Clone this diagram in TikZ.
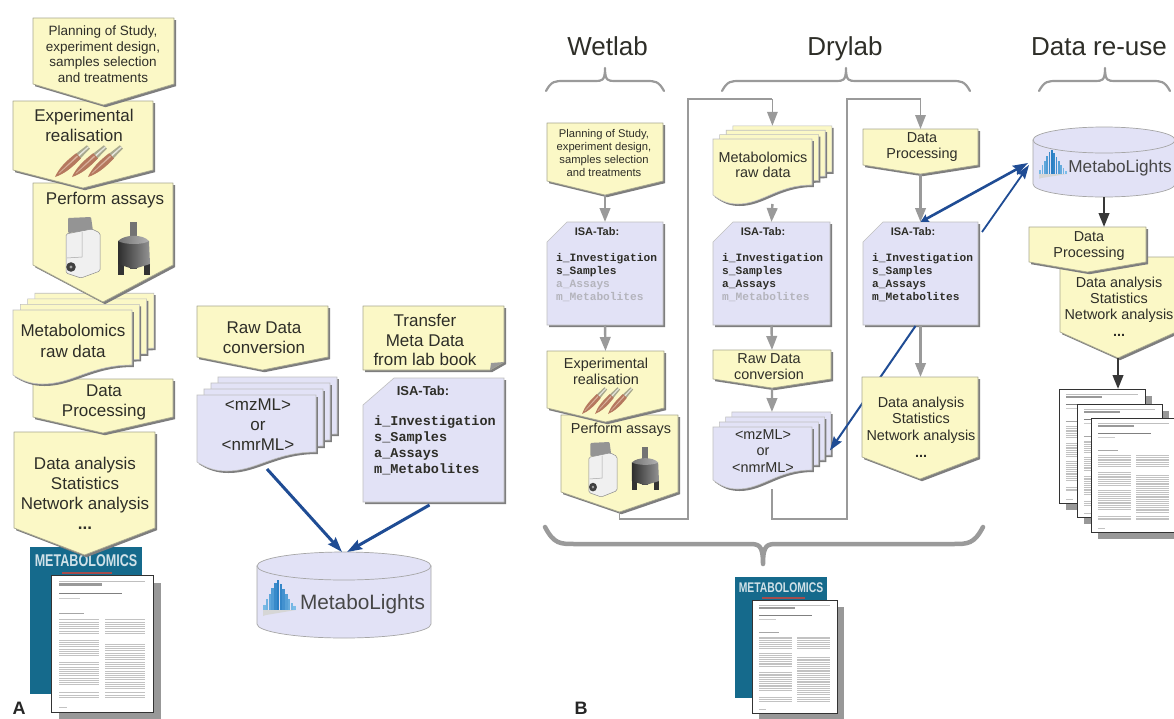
\documentclass[tikz,border=0pt]{standalone}
\usepackage{fontspec}
\setmainfont{Liberation Sans}
\setmonofont{Liberation Mono}
\usetikzlibrary{arrows.meta,calc}
\definecolor{yel}{HTML}{FBF8C6}
\definecolor{lav}{HTML}{E2E2F6}
\definecolor{edgec}{HTML}{A8A890}
\definecolor{shadowc}{HTML}{7E7E7E}
\definecolor{graya}{HTML}{9A9A9A}
\definecolor{bluea}{HTML}{1F4C94}
\definecolor{inkc}{HTML}{2E2E28}
\definecolor{fadec}{HTML}{B4B4BC}
\definecolor{tealc}{HTML}{156A8C}
\definecolor{logoD}{HTML}{2A7FC4}
\definecolor{logoL}{HTML}{8CC8EE}
\definecolor{tubeB}{HTML}{B5785E}
\definecolor{tubeL}{HTML}{D8B09C}
\definecolor{tubeG}{HTML}{A9A98E}
\tikzset{
  x=1pt,y=-1pt,
  anch/.style={inner sep=0pt,outer sep=0pt,draw=none},
  lbltext/.style={inner sep=0pt,align=center,text=inkc},
  headtext/.style={inner sep=0pt,anchor=base,text=inkc,font=\fontsize{26}{28}\selectfont},
  monotext/.style={inner sep=0pt,align=left,anchor=west,text=inkc},
  outlined/.style={draw=edgec,line width=.7pt,line join=round},
  grayarrow/.style={draw=graya,line width=2.4pt,-{Triangle[length=14pt,width=10.5pt]}},
  grayline/.style={draw=graya,line width=1.6pt,line join=miter},
  grayend/.style={draw=graya,line width=1.6pt,line join=miter,-{Triangle[length=14pt,width=10.5pt]}},
  darkarrow/.style={draw=black!78,line width=2.4pt,-{Triangle[length=14pt,width=10.5pt]}},
  bluearrow/.style={draw=bluea,line width=3pt,-{Stealth[length=15pt,width=10pt,inset=2pt]}},
  bluethin/.style={draw=bluea,line width=1.8pt,-{Stealth[length=14pt,width=9.5pt,inset=2pt]}},
  bluedouble/.style={draw=bluea,line width=2.6pt,{Stealth[length=8pt,width=8pt,inset=1pt]}-{Stealth[length=15pt,width=10pt,inset=2pt]}},
  bracestyle/.style={draw=graya,line cap=round,line join=round},
}
% name x1 y1 x2 y2 (extent)
\newcommand{\bbnode}[5]{\node[anch,minimum width={(#4-#2)*1pt},minimum height={(#5-#3)*1pt}] (#1) at ({(#2+#4)/2},{(#3+#5)/2}) {};}
% name x1 y1 x2 ybody ytip
\newcommand{\penta}[6]{%
  \pgfmathsetmacro{\mx}{(#2+#4)/2}
  \fill[shadowc,shift={(2,2.2)}] (#2,#3)--(#4,#3)--(#4,#5)--(\mx,#6)--(#2,#5)--cycle;
  \path[fill=yel,outlined] (#2,#3)--(#4,#3)--(#4,#5)--(\mx,#6)--(#2,#5)--cycle;
  \bbnode{#1}{#2}{#3}{#4}{#6}}
% name x1 y1 x2 y2 cutx cuty
\newcommand{\isabox}[7]{%
  \fill[shadowc,shift={(2,2.2)}] ({#2+#6},#3)--(#4,#3)--(#4,#5)--(#2,#5)--(#2,{#3+#7})--cycle;
  \path[fill=lav,draw=black!25,line width=.6pt] ({#2+#6},#3)--(#4,#3)--(#4,#5)--(#2,#5)--(#2,{#3+#7})--cycle;
  \bbnode{#1}{#2}{#3}{#4}{#5}}
% name x1 y1 x2 yl dx dy fill
\newcommand{\docstack}[8]{%
  \pgfmathsetmacro{\sheetw}{#4-#2}
  \foreach \k in {3,2,1,0}{
    \begin{scope}[shift={({\k*#6},{-\k*#7})}]
      \fill[shadowc,shift={(1.8,2)}] (#2,#3)--(#4,#3)--(#4,{#5-10}) .. controls ({#2+.65*\sheetw},{#5-10}) and ({#2+.5*\sheetw},{#5+9}) .. ({#2+.25*\sheetw},{#5+9}) .. controls ({#2+.15*\sheetw},{#5+9}) and ({#2+.08*\sheetw},{#5+6}) .. (#2,#5)--cycle;
      \path[fill=#8,draw=black!25,line width=.6pt] (#2,#3)--(#4,#3)--(#4,{#5-10}) .. controls ({#2+.65*\sheetw},{#5-10}) and ({#2+.5*\sheetw},{#5+9}) .. ({#2+.25*\sheetw},{#5+9}) .. controls ({#2+.15*\sheetw},{#5+9}) and ({#2+.08*\sheetw},{#5+6}) .. (#2,#5)--cycle;
    \end{scope}}
  \bbnode{#1}{#2}{(#3-3*#7)}{(#4+3*#6)}{(#5+9)}}
% name x y size skip text
\newcommand{\lbl}[6]{\node[lbltext,font=\fontsize{#4}{#5}\selectfont] (#1) at (#2,#3) {#6};}
\newcommand{\mono}[6]{\node[monotext,font=\fontsize{#4}{#5}\selectfont\ttfamily\bfseries] (#1) at (#2,#3) {#6};}
% name x1 cy x2 ye ry
\newcommand{\cylinder}[6]{%
  \pgfmathsetmacro{\rx}{(#4-#2)/2}
  \pgfmathsetmacro{\cxx}{(#2+#4)/2}
  \path[fill=lav,draw=black!35,line width=.7pt] (#2,#3)--(#2,#5) arc[start angle=180,end angle=0,x radius=\rx,y radius=#6]--(#4,#3)--cycle;
  \path[fill=lav,draw=black!35,line width=.7pt] (\cxx,#3) ellipse [x radius=\rx,y radius=#6];
  \bbnode{#1}{#2}{(#3-#6)}{#4}{(#5+#6)}}
% logo x ybase w h
\newcommand{\mlogo}[4]{%
  \begin{scope}[shift={(#1,#2)},xscale={#3/33},yscale={#4/30}]
    \fill[black!16] (0,0)--(33,0)--(3,5)--(0,6)--cycle;
    \foreach \ii/\hh/\cc in {0/5/20,1/11/30,2/16/45,3/22/60,4/27/85,5/30/100,6/26/90,7/21/75,8/16/55,9/11/40,10/7/25,11/4/15}{
      \fill[logoD!\cc!logoL] ({\ii*2.75+.2},0) rectangle ({\ii*2.75+2.5},-\hh);
    }
  \end{scope}}
% mass spec x y w h
\newcommand{\msicon}[4]{%
  \begin{scope}[shift={(#1,#2)},xscale={#3/35},yscale={#4/61}]
    \path[fill=black!42,rounded corners=1pt] (3,1)--(26,0)--(28,14)--(3,16)--cycle;
    \path[fill=black!6,draw=black!45,line width=.5pt,rounded corners=1.5pt] (1,17)--(27,12)--(35,16)--(35,54)--(16,61)--(1,56)--cycle;
    \draw[black!35,line width=.5pt] (17,15)--(17,40)--(2,41);
    \fill[black!75] (6,50) circle[radius=4.8];
    \fill[black!35] (6,50) circle[radius=1.6];
  \end{scope}}
% nmr x y w h
\newcommand{\nmricon}[4]{%
  \begin{scope}[shift={(#1,#2)},xscale={#3/33},yscale={#4/53}]
    \fill[black!55] (13,0) rectangle (20,17);
    \fill[black!80] (1,38) rectangle (7,53);
    \fill[black!80] (27,38) rectangle (33,53);
    \fill[black!70] (13,38) rectangle (20,47);
    \path[left color=black!82,middle color=black!60,right color=black!42] (1,19)--(32,19)--(33,42)--(20,46)--(13,46)--(1,42)--cycle;
    \path[left color=black!55,right color=black!30] (1,19) .. controls (8,12) and (26,12) .. (32,19) .. controls (26,23) and (8,23) .. (1,19);
  \end{scope}}
% tube x y angle length
\newcommand{\tubeitem}[4]{%
  \begin{scope}[shift={(#1,#2)},rotate=#3,scale={#4/44}]
    \path[fill=tubeG] (27,-3.4)--(44,-2.2)--(44,2.2)--(27,3.4)--cycle;
    \path[fill=white!70!tubeG] (30,-.8)--(44,-.6)--(44,.6)--(30,.8)--cycle;
    \path[fill=tubeB] (0,0) .. controls (8,3.6) and (18,4.6) .. (31,3.4)--(31,-3.4) .. controls (18,-4.6) and (8,-3.6) .. (0,0);
    \fill[tubeL] (5,-.4) -- (30,-1.2) -- (30,.4) -- (5,.2) -- cycle;
  \end{scope}}
% paper name x1 y1 x2 y2 shadow
\newcommand{\paperdoc}[6]{%
  \fill[shadowc!80] ({#2+#6},{#3+#6}) rectangle ({#4+#6},{#5+#6});
  \path[fill=white,draw=black!80,line width=1pt] (#2,#3) rectangle (#4,#5);
  \begin{scope}[shift={(#2,#3)},xscale={(#4-#2)/100},yscale={(#5-#3)/135}]
    \draw[black!25,line width=.5pt] (8,6)--(92,6);
    \fill[black!40] (8,8) rectangle (50,10.5);
    \draw[black!50,line width=.6pt] (8,18)--(70,18);
    \draw[black!20,line width=.5pt] (8,23)--(28,23);
    \draw[black!35,line width=.5pt] (8,38)--(32,38);
    \foreach \yy in {44,46.2,...,58}{\draw[black!24,line width=.5pt] (8,\yy)--(47,\yy);\draw[black!24,line width=.5pt] (53,\yy)--(92,\yy);}
    \foreach \yy in {64,66.2,...,80}{\draw[black!24,line width=.5pt] (8,\yy)--(47,\yy);}
    \foreach \yy in {68,70.2,...,112}{\draw[black!24,line width=.5pt] (53,\yy)--(92,\yy);}
    \foreach \yy in {86,88.2,...,110}{\draw[black!24,line width=.5pt] (8,\yy)--(47,\yy);}
    \foreach \yy in {116,118.2,...,122}{\draw[black!24,line width=.5pt] (8,\yy)--(47,\yy);\draw[black!24,line width=.5pt] (53,\yy)--(92,\yy);}
    \draw[black!24,line width=.5pt] (8,130)--(16,130);
  \end{scope}
  \bbnode{#1}{#2}{#3}{#4}{#5}}
% name x1 y1 x2 y2 fontsize
\newcommand{\jcover}[6]{%
  \fill[tealc] (#2,#3) rectangle (#4,#5);
  \node[inner sep=0pt,text=white!80!tealc,font=\fontsize{#6}{#6}\selectfont\bfseries] (#1) at ({(#2+#4)/2},{#3+#6*.78}) {\scalebox{.74}[1]{METABOLOMICS}};
  }
% x1 xtip x2 yend ymain ytip width r1 r2
\newcommand{\bracegr}[9]{%
  \draw[bracestyle,line width=#7pt] (#1,#4) .. controls ({#1+.3*#8},#5) and ({#1+.5*#8},#5) .. ({#1+#8},#5)
    -- ({#2-#9},#5) .. controls ({#2-.3*#9},#5) and (#2,#5) .. (#2,#6)
    .. controls (#2,#5) and ({#2+.3*#9},#5) .. ({#2+#9},#5)
    -- ({#3-#8},#5) .. controls ({#3-.5*#8},#5) and ({#3-.3*#8},#5) .. (#3,#4);}
\begin{document}
\begin{tikzpicture}
\clip (0,0) rectangle (1174,718);
\useasboundingbox (0,0) rectangle (1174,718);
\fill[white] (0,0) rectangle (1174,718);

%%% ---------- Panel A, left column (drawn bottom to top)
\jcover{aCov}{30}{547}{142}{694}{17}
\fill[red!50!black!70] (62,572) rectangle (112,574);
\paperdoc{aPaper}{51}{575}{153}{712}{8}
\penta{aAna}{14}{432}{155}{528}{555}
\lbl{aAnaT}{85}{485}{17}{20}{Data analysis\\Statistics\\Network analysis}
\lbl{aAnaD}{85}{528}{17}{20}{\bfseries ...}
\penta{aProc}{33}{379}{173}{417}{433}
\lbl{aProcT}{104}{402}{17}{20}{Data\\Processing}
\docstack{aMet}{13}{310}{132}{375}{7.3}{5.6}{yel}
\lbl{aMetT}{73}{341}{17}{21}{Metabolomics\\raw data}
\penta{aPerf}{33}{183}{173}{265}{302}
\lbl{aPerfT}{105}{200.5}{17}{20}{Perform assays}
\msicon{65}{217}{35}{61}
\nmricon{117}{222}{33}{53}
\penta{aExp}{13}{101}{153}{170}{188}
\lbl{aExpT}{84}{125}{17}{20}{Experimental\\realisation}
\tubeitem{55}{177}{42}{45}
\tubeitem{72}{177}{42}{45}
\tubeitem{88}{177}{42}{45}
\penta{aPlan}{33}{18}{174}{84}{105}
\lbl{aPlanT}{103}{54}{13.5}{15.5}{Planning of Study,\\experiment design,\\samples selection\\and treatments}
\node[inner sep=0pt,font=\fontsize{18}{18}\selectfont\bfseries,text=black!85] (aLet) at (19,708) {A};

%%% ---------- Panel A, middle
\penta{mRaw}{197}{306}{328}{357}{370}
\lbl{mRawT}{264}{338}{17}{20}{Raw Data\\conversion}
\docstack{mMz}{197}{395}{316}{462}{7}{6}{lav}
\lbl{mMzT}{258}{424.5}{17}{20}{<mzML>\\or\\<nmrML>}
\fill[shadowc,shift={(2,2.2)}] (363,306)--(504,306)--(504,362)--(490,370)--(363,370)--cycle;
\path[fill=yel,outlined] (363,306)--(504,306)--(504,362)--(490,370)--(363,370)--cycle;
\path[fill=black!40] (504,362)--(490,370)--(491,363)--cycle;
\bbnode{mTrans}{363}{306}{504}{370}
\lbl{mTransT}{425}{340}{17}{19.5}{Transfer\\Meta Data\\from lab book}
\isabox{mIsa}{363}{378}{504}{502}{31}{27}
\lbl{mIsaH}{423}{391}{13}{15}{\bfseries ISA-Tab:}
\mono{mIsaL}{374}{445}{13.5}{16}{i\_Investigation\\s\_Samples\\a\_Assays\\m\_Metabolites}
\cylinder{mCyl}{257}{566}{431}{624}{14}
\mlogo{263}{610}{33}{30}
\lbl{mCylT}{362.5}{604.5}{20.8}{22}{\textcolor{black!72}{MetaboLights}}
\draw[bluearrow] ($(mMz.south)+(0,-2)$) -- ($(mCyl.north)+(-2,0)$);
\draw[bluearrow] ($(mIsa.south)+(-4,3)$) -- ($(mCyl.north)+(3,0)$);

%%% ---------- Panel B headings and braces
\node[headtext] (hWet) at (607.5,55) {Wetlab};
\node[headtext] (hDry) at (845,55) {Drylab};
\node[headtext] (hUse) at (1099,55) {Data re-use};
\bracegr{546}{605}{664}{91}{81}{68}{2.2}{18}{10}
\bracegr{722}{846}{970}{91}{81}{68}{2.2}{18}{10}
\bracegr{1039}{1105}{1170}{91}{81}{68}{2.2}{18}{10}
\bracegr{545}{763}{983}{527}{544}{564}{4.5}{30}{15}

%%% ---------- Panel B column 1
\penta{bPlan}{547}{123}{663}{181}{195}
\lbl{bPlanT}{604}{152.5}{11.2}{13}{Planning of Study,\\experiment design,\\samples selection\\and treatments}
\isabox{bIsa1}{547}{222}{663}{325}{20}{20}
\lbl{bIsa1H}{597}{232}{11}{13}{\bfseries ISA-Tab:}
\mono{bIsa1L}{556}{277.5}{11.2}{13}{i\_Investigation\\s\_Samples\\\textcolor{fadec}{a\_Assays}\\\textcolor{fadec}{m\_Metabolites}}
\penta{bPerf}{561}{415}{678}{492}{512}
\lbl{bPerfT}{621}{429.5}{14.4}{16}{Perform assays}
\msicon{588}{442}{29}{55}
\nmricon{631}{447}{28}{43}
\penta{bExp}{547}{351}{664}{408}{422}
\lbl{bExpT}{606}{371}{14.4}{16}{Experimental\\realisation}
\tubeitem{582}{414}{47}{35}
\tubeitem{595}{414}{47}{35}
\tubeitem{608}{414}{47}{35}
\draw[grayarrow] (bPlan.south) -- (bIsa1.north);
\draw[grayarrow] (bIsa1.south) -- (bExp.north);

%%% ---------- Panel B column 2
\docstack{bMet}{713}{139}{812}{195}{6.6}{4.4}{yel}
\lbl{bMetT}{763}{165}{14.4}{15.5}{Metabolomics\\raw data}
\isabox{bIsa2}{713}{222}{830}{325}{20}{20}
\lbl{bIsa2H}{763}{232}{11}{13}{\bfseries ISA-Tab:}
\mono{bIsa2L}{722}{277.5}{11.2}{13}{i\_Investigation\\s\_Samples\\a\_Assays\\\textcolor{fadec}{m\_Metabolites}}
\penta{bRaw}{713}{350}{831}{379}{388}
\lbl{bRawT}{769}{367}{14.4}{16}{Raw Data\\conversion}
\docstack{bMz}{713}{427}{812}{480}{6.3}{5}{lav}
\lbl{bMzT}{763}{451}{14.4}{16.5}{<mzML>\\or\\<nmrML>}
\draw[grayarrow] (bMet.south) -- (bIsa2.north);
\draw[grayarrow] (bIsa2.south) -- (bRaw.north);
\draw[grayarrow] (bRaw.south) -- (bMz.north);

%%% ---------- Panel B column 3
\penta{bProc}{863}{129}{978}{165}{174}
\lbl{bProcT}{922}{147.5}{14.4}{16}{Data\\Processing}
\isabox{bIsa3}{863}{222}{978}{325}{20}{20}
\lbl{bIsa3H}{913}{232}{11}{13}{\bfseries ISA-Tab:}
\mono{bIsa3L}{872}{277.5}{11.2}{13}{i\_Investigation\\s\_Samples\\a\_Assays\\m\_Metabolites}
\draw[grayarrow] (bProc.south) -- (bIsa3.north);

% elbow connectors
\coordinate (elbA) at (688,519);
\coordinate (elbB) at (688,99);
\coordinate (elbC) at (847,519);
\coordinate (elbD) at (847,99);
\draw[grayline] (bPerf.south) -- (bPerf.south |- elbA) -- (elbA) -- (elbB) -- (elbB -| bMet.north);
\draw[grayend] (elbB -| bMet.north) -- (bMet.north);
\draw[grayline] (bMz.south) -- (bMz.south |- elbC) -- (elbC) -- (elbD) -- (elbD -| bProc.north);
\draw[grayend] (elbD -| bProc.north) -- (bProc.north);

%%% ---------- Panel B, blue links and data analysis
\draw[bluethin,line width=2pt] ($(bIsa3.south)+(-5,1)$) -- ($(bMz.east)+(-1,0)$);
\draw[grayarrow] (bIsa3.south) -- ($(bIsa3.south)+(0,52)$);
\penta{bAna}{862}{377}{978}{457}{479}
\lbl{bAnaT}{921}{420}{14.4}{16.5}{Data analysis\\Statistics\\Network analysis}
\lbl{bAnaD}{921}{456}{14.4}{16}{\bfseries ...}

%%% ---------- Panel B, data re-use
\cylinder{cylB}{1033}{140}{1175}{184}{13}
\mlogo{1039}{174}{28}{24}
\lbl{cylBT}{1120}{168.5}{17.2}{19}{\textcolor{black!72}{MetaboLights}}
\draw[bluedouble] (bIsa3.north) -- ($(cylB.west)+(-5,1)$);
\draw[bluethin] ($(bIsa3.east)+(4,-41.5)$) -- ($(cylB.west)+(-4,3)$);

\penta{rAna}{1060}{257}{1176}{332}{358}
\lbl{rAnaT}{1119}{300}{14.4}{16}{Data analysis\\Statistics\\Network analysis}
\lbl{rAnaD}{1119}{335}{14.4}{16}{\bfseries ...}
\penta{rProc}{1029}{227}{1146}{262}{272}
\lbl{rProcT}{1089}{246}{14.4}{16}{Data\\Processing}
\draw[darkarrow] (cylB.south) -- (cylB.south |- rProc.north);
\paperdoc{rP1}{1059}{389}{1145}{503}{7}
\paperdoc{rP2}{1077}{404}{1162}{517}{7}
\paperdoc{rP3}{1091}{418}{1176}{532}{7}
\draw[darkarrow] (rAna.south) -- (rAna.south |- rP1.north);

%%% ---------- Bottom of panel B
\jcover{bCov}{735}{577}{827}{698}{14}
\fill[red!50!black!70] (762,597) rectangle (805,599);
\paperdoc{bPaper}{752}{600}{837}{713}{7}
\node[inner sep=0pt,font=\fontsize{18}{18}\selectfont\bfseries,text=black!85] (bLet) at (581,708) {B};
\end{tikzpicture}
\end{document}
